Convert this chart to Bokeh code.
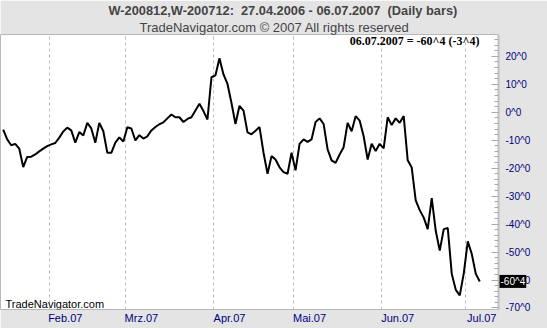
from bokeh.plotting import figure
from bokeh.models import Range1d, FixedTicker, Grid, Label, Title, LinearAxis
from bokeh.embed import file_html
from bokeh.resources import INLINE

# ---- data ----
spread = [
    -6.2, -9.7, -11.8, -11.3, -13.0, -19.6, -16.0, -15.9, -15.1, -14.0,
    -13.0, -12.1, -11.5, -11.0, -9.1, -6.9, -5.5, -6.5, -10.9, -7.1,
    -8.3, -3.8, -5.8, -10.9, -3.8, -6.8, -14.5, -14.5, -10.9, -9.0,
    -10.5, -5.4, -5.8, -10.1, -8.2, -9.4, -8.6, -6.5, -5.3, -4.3,
    -3.6, -2.2, -0.8, -1.8, -1.8, -3.5, -2.4, -1.8, 0.6, 3.0,
    0.4, -2.6, 12.5, 13.2, 19.3, 13.5, 10.1, 3.3, -4.2, 2.3,
    0.6, -7.2, -7.9, -6.6, -5.3, -14.5, -22.0, -15.7, -16.9, -19.7,
    -21.4, -22.0, -14.5, -20.8, -11.3, -9.7, -10.6, -9.7, -3.5, -2.2,
    -4.2, -13.3, -17.2, -18.1, -15.1, -12.5, -3.8, -6.8, -1.4, -3.0,
    -8.6, -16.9, -11.3, -13.9, -11.3, -12.9, -1.8, -4.6, -2.2, -3.8,
    -1.4, -17.2, -19.8, -31.5, -35.0, -37.7, -41.8, -30.7, -42.4, -49.5,
    -41.8, -41.4, -57.8, -63.5, -65.5, -57.6, -46.2, -50.7, -57.8, -60.5,
]
day_index = list(range(len(spread)))

month_labels = ["Feb.07", "Mrz.07", "Apr.07", "Mai.07", "Jun.07", "Jul.07"]
month_start = [12, 31, 53, 73, 95, 116]

y_ticks = [-70, -60, -50, -40, -30, -20, -10, 0, 10, 20]
y_minor = list(range(-70, 28, 2))
y_tick_labels = {t: f"{t}^0" for t in y_ticks}

title_text = "W-200812,W-200712:\u00a0 27.04.2006 - 06.07.2007\u00a0 (Daily bars)"
subtitle_text = "TradeNavigator.com \u00a9 2007 All rights reserved"
last_text = "06.07.2007 = -60^4 (-3^4)"
last_tag = "-60^4"
watermark = "TradeNavigator.com"

BG = "#e4e4e4"
NAVY = "#000080"

p = figure(width=547, height=328, output_backend="svg", toolbar_location=None,
           x_axis_location=None, y_axis_location="right",
           x_range=Range1d(-0.674, 123.67), y_range=Range1d(-70.54, 27.79),
           min_border_left=0, min_border_right=49, min_border_top=33, min_border_bottom=19)
p.border_fill_color = BG
p.background_fill_color = "white"
p.outline_line_color = "#b8b8b8"
p.outline_line_width = 1
p.xgrid.visible = False
p.ygrid.visible = False

grid = Grid(dimension=0, ticker=FixedTicker(ticks=[m - 0.5 for m in month_start]),
            grid_line_color="#bdbdbd", grid_line_dash="3 3", grid_line_width=1)
p.add_layout(grid)

# price axis: spine and ticks only (labels come from a second axis)
ax = p.yaxis[0]
ax.ticker = FixedTicker(ticks=y_ticks, minor_ticks=y_minor)
ax.major_label_overrides = {t: "" for t in y_ticks}
ax.axis_line_color = "#c0c0c0"
ax.axis_line_width = 2
ax.major_tick_in = 7
ax.major_tick_out = 0
ax.minor_tick_in = 4
ax.minor_tick_out = 0
ax.major_tick_line_color = "#a8a8a8"
ax.minor_tick_line_color = "#a8a8a8"
ax.major_label_standoff = 0
ax.major_label_text_font_size = "1px"

# last value tag beside the price axis (side panel, so it is not clipped)
tag = Label(x=1, y=spread[-1], x_units="screen", y_units="data",
            text=last_tag, text_align="left", text_baseline="middle",
            text_font="Liberation Sans", text_font_size="10px", text_color="white",
            background_fill_color="black", padding=1)
p.add_layout(tag, "right")

# price labels, pulled back next to the spine
lab_ax = LinearAxis(ticker=FixedTicker(ticks=y_ticks, minor_ticks=[]),
                    major_label_overrides=y_tick_labels,
                    axis_line_color=None, major_tick_line_color=None, minor_tick_line_color=None,
                    major_tick_out=0, major_tick_in=0, major_label_standoff=-20,
                    major_label_text_color=NAVY, major_label_text_font="Liberation Sans",
                    major_label_text_font_size="10px")
p.add_layout(lab_ax, "right")

# month axis: labels sit just right of their grid line
month_pos = [m - 0.5 + 4.0 for m in month_start]
xax = LinearAxis(ticker=FixedTicker(ticks=month_pos),
                 major_label_overrides=dict(zip(month_pos, month_labels)),
                 axis_line_color=None, major_tick_line_color=None, minor_tick_line_color=None,
                 major_tick_out=0, major_tick_in=0, major_label_standoff=2,
                 major_label_text_color=NAVY, major_label_text_font="Liberation Sans",
                 major_label_text_font_size="11px")
p.add_layout(xax, "below")

p.line(day_index, spread, line_color="black", line_width=2)

# titles (the added Title sits nearest to the plot)
p.title.text = title_text
p.title.text_font = "Liberation Sans"
p.title.text_font_style = "bold"
p.title.text_font_size = "12.8px"
p.title.align = "left"
p.title.offset = 108
p.title.standoff = 0
p.add_layout(Title(text=subtitle_text, text_font="Liberation Sans", text_font_style="normal",
                   text_font_size="13px", align="left", offset=139, standoff=0), "above")

p.add_layout(Label(x=479, y=269, x_units="screen", y_units="screen",
                   text=last_text, text_align="right", text_baseline="middle",
                   text_font="Liberation Serif", text_font_style="bold",
                   text_font_size="12px", text_color="black"))

p.add_layout(Label(x=5, y=6, x_units="screen", y_units="screen",
                   text=watermark, text_align="left", text_baseline="middle",
                   text_font="Liberation Sans", text_font_size="11px", text_color="black"))

open("out.html", "w").write(file_html(p, INLINE))
